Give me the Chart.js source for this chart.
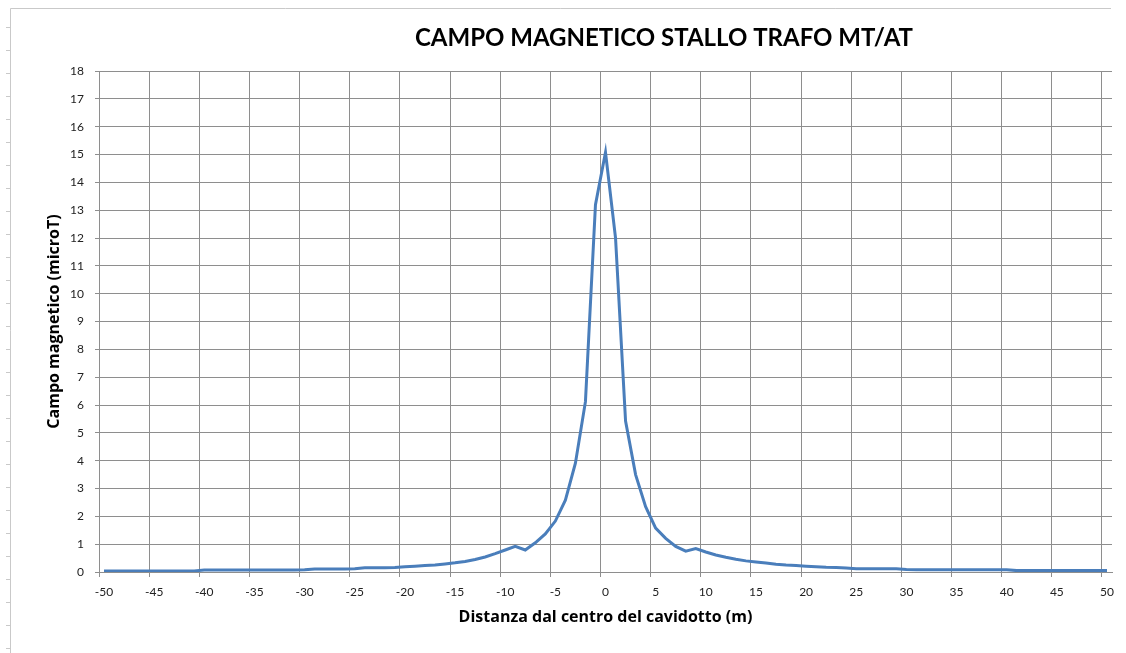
<!DOCTYPE html>
<html>
<head>
<meta charset="utf-8">
<script src="https://cdn.jsdelivr.net/npm/chart.js@4.4.1/dist/chart.umd.min.js"></script>
<style>
  html, body { margin: 0; padding: 0; background: #fff; }
  #wrap { width: 1126px; height: 653px; }
</style>
</head>
<body>
<div id="wrap"><canvas id="chart" width="1126" height="653"></canvas></div>
<script>
// distanza dal centro del cavidotto (m)
const distances = [
  -50, -49, -48, -47, -46, -45, -44, -43, -42, -41,
  -40, -39, -38, -37, -36, -35, -34, -33, -32, -31,
  -30, -29, -28, -27, -26, -25, -24, -23, -22, -21,
  -20, -19, -18, -17, -16, -15, -14, -13, -12, -11,
  -10, -9, -8, -7, -6, -5, -4, -3, -2, -1,
  0,
  1, 2, 3, 4, 5, 6, 7, 8, 9, 10,
  11, 12, 13, 14, 15, 16, 17, 18, 19, 20,
  21, 22, 23, 24, 25, 26, 27, 28, 29, 30,
  31, 32, 33, 34, 35, 36, 37, 38, 39, 40,
  41, 42, 43, 44, 45, 46, 47, 48, 49, 50
];

// campo magnetico (microT)
const fieldValues = [
  0.04, 0.04, 0.04, 0.04, 0.04, 0.04, 0.04, 0.04, 0.04, 0.04,
  0.07, 0.07, 0.07, 0.07, 0.07, 0.07, 0.07, 0.07, 0.07, 0.07,
  0.08, 0.11, 0.11, 0.11, 0.11, 0.12, 0.15, 0.15, 0.15, 0.16,
  0.19, 0.21, 0.23, 0.25, 0.29, 0.33, 0.38, 0.45, 0.54, 0.66,
  0.79, 0.92, 0.79, 1.05, 1.37, 1.83, 2.58, 3.91, 6.12, 13.2,
  15.08,
  12.0, 5.42, 3.5, 2.35, 1.58, 1.21, 0.92, 0.75, 0.84, 0.72,
  0.61, 0.53, 0.46, 0.40, 0.36, 0.32, 0.28, 0.25, 0.23, 0.21,
  0.19, 0.17, 0.16, 0.14, 0.12, 0.12, 0.12, 0.12, 0.12, 0.09,
  0.08, 0.08, 0.08, 0.08, 0.08, 0.08, 0.08, 0.08, 0.08, 0.08,
  0.05, 0.05, 0.05, 0.05, 0.05, 0.05, 0.05, 0.05, 0.05, 0.05
];

const chartTitle = 'CAMPO MAGNETICO STALLO TRAFO MT/AT';
const xTitle = 'Distanza dal centro del cavidotto (m)';
const yTitle = 'Campo magnetico (microT)';

const gridGray = '#8e8e8e';
const fontFamily = 'Lato, "Open Sans", sans-serif';
const axisTitleFamily = '"Open Sans", Lato, sans-serif';

// white background, sheet frame and the title
const framePlugin = {
  id: 'frame',
  beforeDraw: function (chart) {
    let ctx = chart.ctx;
    ctx.save();
    ctx.fillStyle = '#fff';
    ctx.fillRect(0, 0, chart.width, chart.height);
    ctx.strokeStyle = '#c9c9c9';
    ctx.lineWidth = 1;
    ctx.beginPath();
    ctx.moveTo(10.5, 8.5);
    ctx.lineTo(10.5, chart.height);
    ctx.moveTo(10.5, 8.5);
    ctx.lineTo(1111, 8.5);
    for (let y = 27.5; y < chart.height; y += 23) {
      ctx.moveTo(6, y);
      ctx.lineTo(10, y);
    }
    ctx.stroke();
    ctx.restore();
  },
  afterDraw: function (chart) {
    let ctx = chart.ctx;
    ctx.save();
    ctx.fillStyle = '#000';
    ctx.font = 'bold 24px ' + fontFamily;
    ctx.textAlign = 'center';
    ctx.textBaseline = 'alphabetic';
    ctx.fillText(chartTitle, 664, 46);
    ctx.restore();
  }
};

new Chart(document.getElementById('chart'), {
  type: 'line',
  data: {
    labels: distances,
    datasets: [{
      data: fieldValues,
      borderColor: '#4a7ebb',
      borderWidth: 3,
      pointRadius: 0,
      tension: 0,
      fill: false
    }]
  },
  options: {
    responsive: false,
    animation: false,
    devicePixelRatio: 1,
    layout: {
      padding: { left: 41, right: 14, top: 71, bottom: 22 }
    },
    plugins: {
      legend: { display: false },
      tooltip: { enabled: false },
      title: { display: false }
    },
    scales: {
      x: {
        type: 'category',
        offset: true,
        grid: {
          offset: true,
          color: function (c) { return c.index % 5 === 0 ? gridGray : 'rgba(0,0,0,0)'; },
          lineWidth: 1,
          tickLength: 5
        },
        border: { color: gridGray },
        ticks: {
          autoSkip: false,
          maxRotation: 0,
          padding: 8,
          color: '#222',
          font: { family: fontFamily, size: 12 },
          callback: function (val, idx) {
            return idx % 5 === 0 ? this.getLabelForValue(val) : '';
          }
        },
        title: {
          display: true,
          text: xTitle,
          color: '#000',
          font: { family: axisTitleFamily, size: 16, weight: 'bold' }
        },
        afterFit: function (scale) { scale.height = 59; }
      },
      y: {
        min: 0,
        max: 18,
        grid: { color: gridGray, lineWidth: 1, tickLength: 4 },
        border: { color: gridGray },
        ticks: {
          stepSize: 1,
          padding: 11,
          color: '#222',
          font: { family: fontFamily, size: 12 }
        },
        title: {
          display: true,
          text: yTitle,
          color: '#000',
          font: { family: axisTitleFamily, size: 16, weight: 'bold' }
        },
        afterFit: function (scale) { scale.width = 58; }
      }
    }
  },
  plugins: [framePlugin]
});
</script>
</body>
</html>
